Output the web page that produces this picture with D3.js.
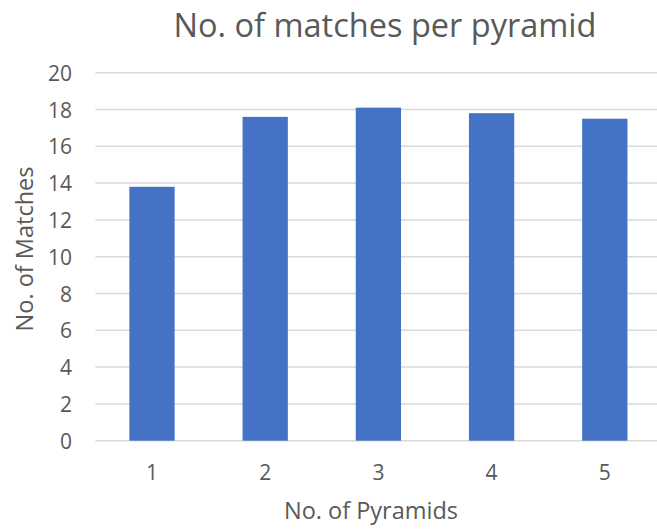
<!DOCTYPE html>
<html>
<head>
<meta charset="utf-8">
<script src="https://cdn.jsdelivr.net/npm/d3@7"></script>
<style>
  html, body { margin: 0; padding: 0; background: #fff; }
  svg { display: block; }
  text { font-family: "Open Sans", Lato, sans-serif; fill: #595959; }
</style>
</head>
<body>
<svg id="chart" width="657" height="532"></svg>
<script>
// Chart data
const pyramids = ["1", "2", "3", "4", "5"];
const matches = [13.8, 17.6, 18.1, 17.8, 17.5];
const yTicks = [0, 2, 4, 6, 8, 10, 12, 14, 16, 18, 20];

const chartTitle = "No. of matches per pyramid";
const xTitle = "No. of Pyramids";
const yTitle = "No. of Matches";

const FONT = "'Open Sans', Lato, sans-serif";
const plot = { left: 95.4, right: 661.4, top: 72.7, bottom: 440.7 };

const svg = d3.select("#chart");

const x = d3.scaleBand()
  .domain(pyramids)
  .range([plot.left, plot.right])
  .paddingInner(0.6)
  .paddingOuter(0.3);

const y = d3.scaleLinear()
  .domain([0, 20])
  .range([plot.bottom, plot.top]);

// Horizontal gridlines
svg.append("g")
  .selectAll("line")
  .data(yTicks)
  .join("line")
  .attr("x1", plot.left)
  .attr("x2", plot.right)
  .attr("y1", d => y(d))
  .attr("y2", d => y(d))
  .attr("stroke", "#d9d9d9")
  .attr("stroke-width", 1.5);

// Bars
svg.append("g")
  .selectAll("rect")
  .data(pyramids.map((p, i) => ({ p, v: matches[i] })))
  .join("rect")
  .attr("x", d => x(d.p))
  .attr("width", x.bandwidth())
  .attr("y", d => y(d.v))
  .attr("height", d => y(0) - y(d.v))
  .attr("fill", "#4472c4");

// Y axis labels
const yAxis = d3.axisLeft(y).tickValues(yTicks).tickSize(0).tickPadding(0);
const yg = svg.append("g")
  .attr("transform", "translate(72, 0)")
  .call(yAxis);
yg.select(".domain").remove();
yg.selectAll("text")
  .attr("font-size", 21)
  .attr("fill", "#595959")
  .attr("font-family", FONT)
  .attr("dy", "0.36em");

// X axis labels
const xAxis = d3.axisBottom(x).tickSize(0).tickPadding(0);
const xg = svg.append("g")
  .attr("transform", "translate(0, 480)")
  .call(xAxis);
xg.select(".domain").remove();
xg.selectAll("text")
  .attr("font-size", 21)
  .attr("fill", "#595959")
  .attr("font-family", FONT)
  .attr("dy", 0);

// Titles
svg.append("text")
  .attr("x", 385)
  .attr("y", 37)
  .attr("text-anchor", "middle")
  .attr("font-size", 32.5)
  .text(chartTitle);

svg.append("text")
  .attr("x", 371)
  .attr("y", 519)
  .attr("text-anchor", "middle")
  .attr("font-size", 23.5)
  .text(xTitle);

svg.append("text")
  .attr("transform", "translate(33, 249) rotate(-90)")
  .attr("text-anchor", "middle")
  .attr("font-size", 23.5)
  .text(yTitle);
</script>
</body>
</html>
